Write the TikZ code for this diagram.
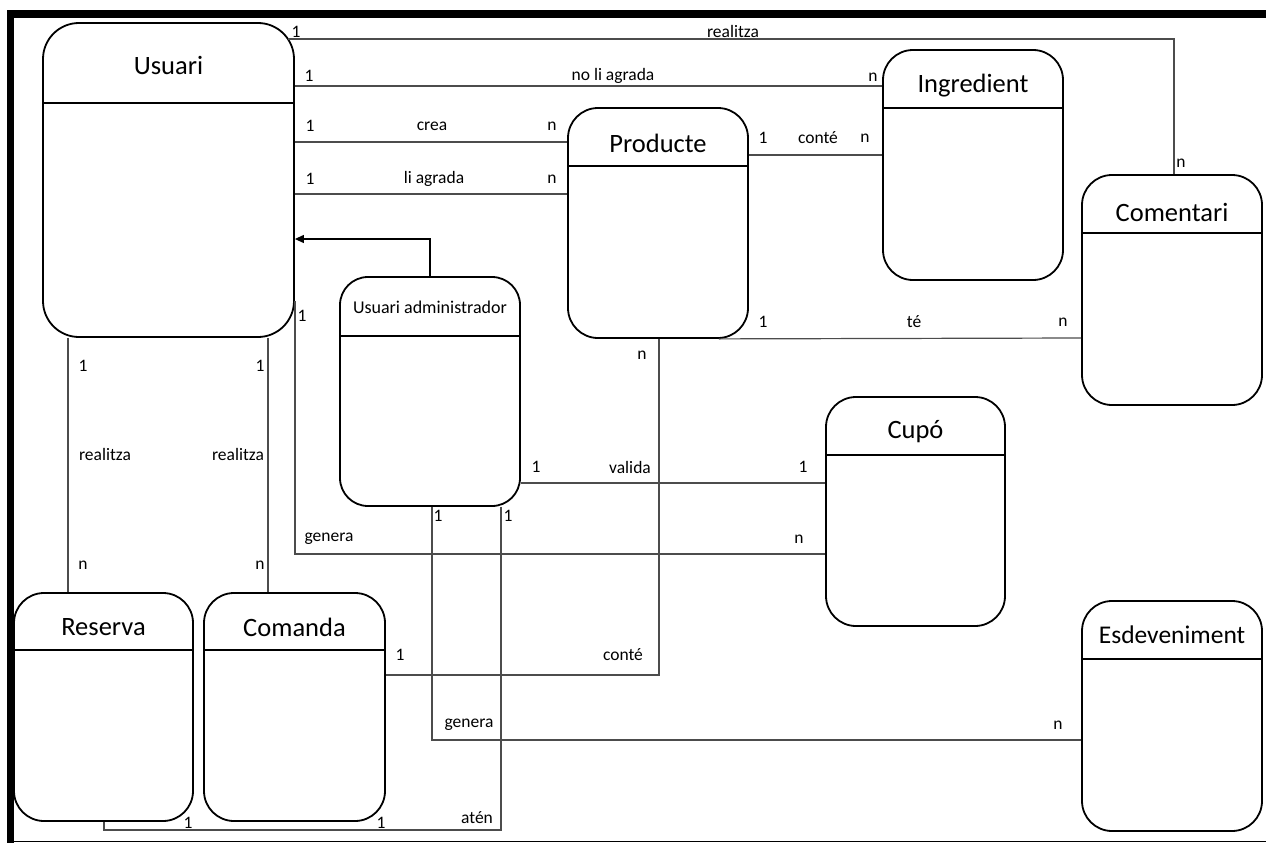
\documentclass[tikz,border=0pt]{standalone}
\usepackage{fontspec}
\setmainfont{Carlito}
\usetikzlibrary{arrows.meta}
\begin{document}
\begin{tikzpicture}[x=1pt,y=-1pt,
  entity/.style={draw=black, line width=1.8pt, rectangle, inner sep=0pt, rounded corners=#1},
  entity/.default=30pt,
  hdr/.style={draw=black, line width=1.8pt},
  title/.style={inner sep=0pt, font=\fontsize{26.5}{30}\selectfont},
  conn/.style={draw=black!70, line width=1.2pt},
  lbl/.style={inner sep=0pt, font=\fontsize{17.5}{20}\selectfont}
]
\useasboundingbox (0,0) rectangle (1266,843);

% page frame
\fill[black] (7,10) rectangle (1266,18);
\fill[black] (7,10) rectangle (14,843);
\draw[black, line width=1.5pt] (7,841.5) -- (1266,841.5);

% entities
\node[entity=36pt, minimum width=251pt, minimum height=314pt] (usuari) at (168.5,180) {};
\draw[hdr] (usuari.west |- 0,103) -- (usuari.east |- 0,103);
\node[title] (usuariT) at (168.5,65) {Usuari};

\node[entity, minimum width=180pt, minimum height=230pt] (producte) at (658,223) {};
\draw[hdr] (producte.west |- 0,166) -- (producte.east |- 0,166);
\node[title] (producteT) at (658,143) {Producte};

\node[entity, minimum width=180pt, minimum height=230pt] (ingredient) at (973,165) {};
\draw[hdr] (ingredient.west |- 0,108) -- (ingredient.east |- 0,108);
\node[title] (ingredientT) at (973,86) {Ingredient};

\node[entity, minimum width=180pt, minimum height=230pt] (comentari) at (1172,290) {};
\draw[hdr] (comentari.west |- 0,233) -- (comentari.east |- 0,233);
\node[title] (comentariT) at (1172,212) {Comentari};

\node[entity=28pt, minimum width=180pt, minimum height=229pt] (admin) at (430,391.5) {};
\draw[hdr] (admin.west |- 0,336) -- (admin.east |- 0,336);
\node[inner sep=0pt, font=\fontsize{18}{21}\selectfont] (adminT) at (430,307) {Usuari administrador};

\node[entity, minimum width=179pt, minimum height=229pt] (cupo) at (915.5,511.5) {};
\draw[hdr] (cupo.west |- 0,455) -- (cupo.east |- 0,455);
\node[title] (cupoT) at (915.5,432) {Cupó};

\node[entity, minimum width=180pt, minimum height=230pt] (esdev) at (1172,716) {};
\draw[hdr] (esdev.west |- 0,659) -- (esdev.east |- 0,659);
\node[title, font=\fontsize{25.5}{29}\selectfont] (esdevT) at (1172,635) {Esdeveniment};

\node[entity, minimum width=179pt, minimum height=228pt] (reserva) at (103.5,707) {};
\draw[hdr] (reserva.west |- 0,650) -- (reserva.east |- 0,650);
\node[title] (reservaT) at (103.5,627) {Reserva};

\node[entity, minimum width=181pt, minimum height=228pt] (comanda) at (294.5,707) {};
\draw[hdr] (comanda.west |- 0,650) -- (comanda.east |- 0,650);
\node[title] (comandaT) at (294.5,627) {Comanda};

% relationships
\draw[conn] ([xshift=-7pt]usuari.east |- 0,39) -| (comentari.north -| 1174,0);
\draw[conn] (usuari.east |- 0,86) -- (ingredient.west |- 0,86);
\draw[conn] (usuari.east |- 0,142) -- (producte.west |- 0,142);
\draw[conn] (usuari.east |- 0,194) -- (producte.west |- 0,194);
\draw[conn, -{Triangle[length=9pt,width=8pt]}, draw=black] (admin.north) |- (usuari.east |- 0,239);
\draw[conn] (usuari.east |- 0,301) |- (cupo.west |- 0,554);
\draw[conn] (usuari.south -| 68,0) -- (reserva.north -| 68,0);
\draw[conn] (usuari.south -| 268,0) -- (comanda.north -| 268,0);
\draw[conn] (producte.east |- 0,155) -- (ingredient.west |- 0,155);
\draw[conn] ([xshift=-30pt]producte.south east) -- (comentari.west |- 0,338);
\draw[conn] (producte.south -| 659,0) |- (comanda.east |- 0,675);
\draw[conn] (admin.east |- 0,483) -- (cupo.west |- 0,483);
\coordinate (atenjoin) at (104,830);
\draw[conn] (admin.south -| 501,0) |- (atenjoin) -- (reserva.south -| atenjoin);
\draw[conn] (comanda.south -| 295,0) -- (comanda.south -| 295,830);
\draw[conn] (admin.south -| 432,0) |- (esdev.west |- 0,740);

% cardinalities and relationship names
\node[lbl] (l1a) at (296,32) {1};
\node[lbl] (l1b) at (733,31) {realitza};
\node[lbl] (l1c) at (1181,163) {n};

\node[lbl] (l2a) at (309,76) {1};
\node[lbl] (l2b) at (613,76) {no li agrada};
\node[lbl] (l2c) at (873,77) {n};

\node[lbl] (l3a) at (310,126) {1};
\node[lbl] (l3b) at (432,126) {crea};
\node[lbl] (l3c) at (552,126) {n};

\node[lbl] (l4a) at (310,179) {1};
\node[lbl] (l4b) at (434,179) {li agrada};
\node[lbl] (l4c) at (552,179) {n};

\node[lbl] (l5a) at (763,138) {1};
\node[lbl] (l5b) at (818,138) {conté};
\node[lbl] (l5c) at (865,138) {n};

\node[lbl] (l6a) at (763,322) {1};
\node[lbl] (l6b) at (914,322) {té};
\node[lbl] (l6c) at (1063,322) {n};

\node[lbl] (l7a) at (302,316) {1};
\node[lbl] (l7b) at (329,539) {genera};
\node[lbl] (l7c) at (799,539) {n};

\node[lbl] (l8a) at (642,355) {n};
\node[lbl] (l8b) at (623,655) {conté};
\node[lbl] (l8c) at (400,655) {1};

\node[lbl] (l9a) at (536,467) {1};
\node[lbl] (l9b) at (630,467) {valida};
\node[lbl] (l9c) at (803,467) {1};

\node[lbl] (l10a) at (83,366) {1};
\node[lbl] (l10b) at (105,454) {realitza};
\node[lbl] (l10c) at (83,565) {n};

\node[lbl] (l11a) at (260,366) {1};
\node[lbl] (l11b) at (238,454) {realitza};
\node[lbl] (l11c) at (260,565) {n};

\node[lbl] (l12a) at (438,516) {1};
\node[lbl] (l12b) at (469,725) {genera};
\node[lbl] (l12c) at (1058,725) {n};

\node[lbl] (l13a) at (508,516) {1};
\node[lbl] (l13b) at (477,818) {atén};
\node[lbl] (l13c) at (188,823) {1};
\node[lbl] (l13d) at (381,823) {1};
\end{tikzpicture}
\end{document}
